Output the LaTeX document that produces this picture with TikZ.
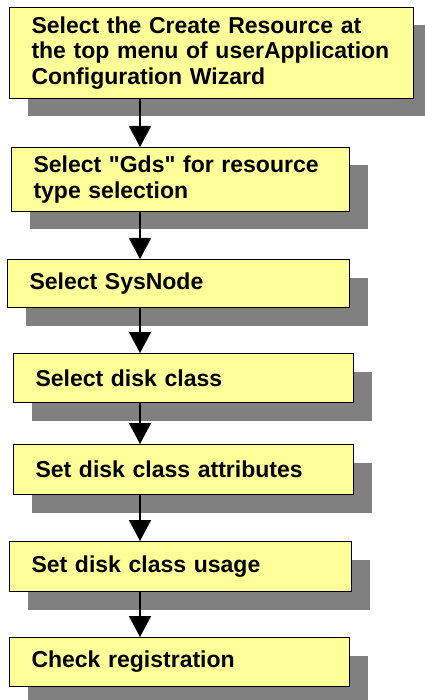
\documentclass[tikz,border=0pt]{standalone}
\usepackage{fontspec}
\setmainfont{Liberation Sans}
\usetikzlibrary{calc, positioning}
\usetikzlibrary{arrows.meta}
\usetikzlibrary{shadows}

\definecolor{boxyellow}{RGB}{255,255,153}
\definecolor{shadowgray}{RGB}{128,128,128}

\begin{document}
\begin{tikzpicture}[x=1pt, y=-1pt,
  stepbox/.style={draw, fill=boxyellow, line width=1pt, anchor=north west,
    align=left, inner xsep=22pt, inner ysep=0pt,
    font=\fontsize{23}{25.5}\selectfont\bfseries,
    drop shadow={shadow xshift=18pt, shadow yshift=-18pt, fill=shadowgray, opacity=1}},
  flow/.style={line width=1.5pt, -{Triangle[width=22pt, length=21pt]}}]
\useasboundingbox (0,0) rectangle (424,700);

\coordinate (ax) at (140,0);

\node[stepbox, text width=360pt, minimum height=91pt] (create) at (9,7)
  {Select the Create Resource at\\the top menu of userApplication\\Configuration Wizard};
\node[stepbox, text width=294pt, minimum height=64pt] (gds) at (11,147)
  {Select \textquotedbl Gds\textquotedbl{} for resource\\type selection};
\node[stepbox, text width=298pt, minimum height=48pt] (sysnode) at (7,259)
  {Select SysNode};
\node[stepbox, text width=296pt, minimum height=49pt] (diskclass) at (13,353)
  {Select disk class};
\node[stepbox, text width=296pt, minimum height=50pt] (attrib) at (13,444)
  {Set disk class attributes};
\node[stepbox, text width=298pt, minimum height=50pt] (usage) at (9,541)
  {Set disk class usage};
\node[stepbox, text width=296pt, minimum height=49pt] (check) at (9,637)
  {Check registration};

\foreach \a/\b in {create/gds, gds/sysnode, sysnode/diskclass,
                   diskclass/attrib, attrib/usage, usage/check}
  \draw[flow] (\a.south -| ax) -- (\b.north -| ax);
\end{tikzpicture}
\end{document}
